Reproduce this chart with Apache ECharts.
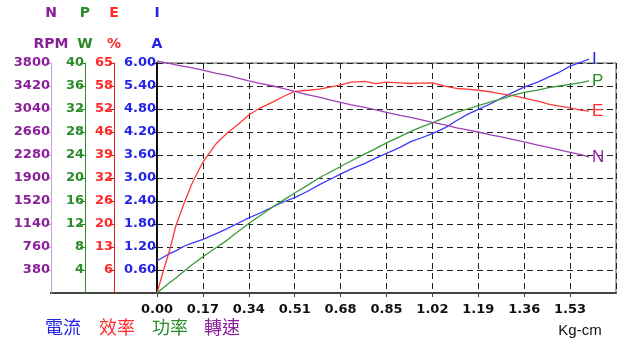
<!DOCTYPE html>
<html><head><meta charset="utf-8">
<script src="https://cdn.jsdelivr.net/npm/echarts@6/dist/echarts.min.js"></script>
<style>html,body{margin:0;padding:0;background:#fff}#c{width:640px;height:350px}</style>
</head><body><div id="c"></div>
<script>
// torque (Kg-cm)
const torque = [0,0.02,0.05,0.07,0.10,0.13,0.17,0.22,0.26,0.30,0.34,0.38,0.43,0.47,0.51,0.56,0.60,0.64,0.68,0.72,0.77,0.81,0.85,0.90,0.94,0.98,1.02,1.07,1.11,1.15,1.19,1.24,1.28,1.32,1.36,1.41,1.45,1.49,1.53,1.57,1.60];
// current I (A)
const currentA = [0.84,0.92,1.04,1.10,1.22,1.30,1.40,1.55,1.68,1.82,1.96,2.08,2.25,2.38,2.49,2.66,2.82,2.96,3.10,3.24,3.38,3.52,3.64,3.80,3.95,4.05,4.16,4.32,4.50,4.66,4.79,4.95,5.10,5.24,5.37,5.50,5.63,5.76,5.92,6.02,6.10];
// efficiency E (%)
const effPct = [0,5.3,13,19,25.3,31,37,42.3,45.2,47.6,50.3,52.2,54,55.6,57,57.3,57.6,58.2,58.8,59.6,59.8,59.2,59.6,59.4,59.2,59.3,59.4,58.4,57.8,57.6,57.3,56.8,56.2,55.8,55.1,54.2,53.4,52.8,52.3,51.7,51.4];
// power P (W)
const powerW = [0,0.8,1.9,2.6,3.8,4.9,6.3,7.9,9.2,10.7,12.1,13.4,15.0,16.2,17.4,18.8,20.0,21.0,22.0,23.0,24.2,25.1,26.1,27.2,28.1,28.9,29.6,30.6,31.4,32.0,32.6,33.3,33.8,34.4,34.9,35.3,35.7,36.0,36.3,36.6,36.9];
// speed N (RPM)
const speedRpm = [3830,3815,3790,3770,3745,3720,3684,3630,3595,3550,3505,3465,3420,3375,3330,3275,3235,3190,3150,3110,3065,3025,2985,2935,2900,2860,2820,2775,2730,2695,2660,2610,2575,2535,2495,2445,2405,2365,2325,2285,2245];
// efficiency tick labels
const effTicks = ['0','6','13','20','26','32','39','46','52','58','65'];
const legendNames = ['電流','效率','功率','轉速'];
const headerLetters = ['N','P','E','I'];
const headerUnits = ['RPM','W','%','A'];

const C = {I:'#2424e6', E:'#ff2a2a', P:'#2a8c2a', N:'#8a1f9a'};
const L = {I:'#3a3aff', E:'#ff3a3a', P:'#3a9a3a', N:'#a040b8'};
const gridL = 157, gridT = 63, gridW = 459, gridH = 230;
const offs = {I:0, E:43, P:72, N:106};
const font = 'DejaVu Sans';
const pair = arr => torque.map((t,i)=>[t, arr[i]]);

function yAx(key, max, interval, fmt, lineColor, lineW){
  return {type:'value', position:'left', offset:offs[key], min:0, max:max, interval:interval,
    axisLine:{show:true, onZero:false, lineStyle:{color:lineColor, width:lineW}},
    axisTick:{show:true, length:5, lineStyle:{color:lineColor}},
    axisLabel:{color:C[key], fontFamily:font, fontWeight:'bold', fontSize:13, margin:1, showMinLabel:false, formatter:fmt},
    splitLine:{show:key==='I', lineStyle:{color:'#222', type:[6,4], width:1}}};
}

const chart = echarts.init(document.getElementById('c'), null, {renderer:'canvas'});
const axisX = [gridL-offs.N, gridL-offs.P, gridL-offs.E, gridL];
const headerColors = [C.N, C.P, C.E, C.I];
const graphics = [];
headerLetters.forEach((t,i)=>graphics.push({type:'text', x:axisX[i], y:13, style:{text:t, fill:headerColors[i], font:'bold 14px '+font, textAlign:'center', textVerticalAlign:'middle'}}));
headerUnits.forEach((t,i)=>graphics.push({type:'text', x:axisX[i], y:44, style:{text:t, fill:headerColors[i], font:'bold 14px '+font, textAlign:'center', textVerticalAlign:'middle'}}));
const legColors = [C.I, C.E, C.P, C.N];
const legX = [45, 99, 152, 204];
legendNames.forEach((t,i)=>graphics.push({type:'text', x:legX[i], y:327, style:{text:t, fill:legColors[i], font:'18px "Noto Sans CJK TC"', textAlign:'left', textVerticalAlign:'middle'}}));
graphics.push({type:'text', x:580, y:331, style:{text:'Kg-cm', fill:'#111', font:'15px "Liberation Sans"', textAlign:'center', textVerticalAlign:'middle'}});
graphics.push({type:'line', shape:{x1:gridL-offs.N-1, y1:gridT+gridH, x2:gridL, y2:gridT+gridH}, style:{stroke:'#444', lineWidth:2}});

function ser(name, key, arr, yIdx, endText){
  return {name:name, type:'line', yAxisIndex:yIdx, data:pair(arr), showSymbol:false, clip:false,
    lineStyle:{color:L[key], width:1.3}, itemStyle:{color:L[key]},
    endLabel:{show:true, formatter:endText, color:C[key], fontFamily:'Liberation Sans', fontSize:17, distance:3},
    animation:false};
}

chart.setOption({
  animation:false,
  grid:{left:gridL, top:gridT, width:gridW, height:gridH, show:true, borderColor:'#555', borderWidth:1, backgroundColor:'transparent'},
  xAxis:{type:'value', min:0, max:1.7, interval:0.17,
    axisLine:{show:true, onZero:false, lineStyle:{color:'#444', width:2}},
    axisTick:{show:true, length:4, lineStyle:{color:'#444'}},
    axisLabel:{color:'#111', fontFamily:font, fontWeight:'bold', fontSize:13, margin:10, showMaxLabel:false, formatter:v=>v.toFixed(2)},
    splitLine:{show:true, lineStyle:{color:'#222', type:[6,4], width:1}}},
  yAxis:[
    yAx('I', 6, 0.6, v=>v.toFixed(2), '#111', 2),
    yAx('E', 65, 6.5, v=>effTicks[Math.round(v/6.5)], '#e02020', 1),
    yAx('P', 40, 4, v=>String(Math.round(v)), '#2a8c2a', 1),
    yAx('N', 3800, 380, v=>String(Math.round(v)), '#c8a0d4', 1)
  ],
  series:[
    ser('電流','I',currentA,0,'I'),
    ser('效率','E',effPct,1,'E'),
    ser('功率','P',powerW,2,'P'),
    ser('轉速','N',speedRpm,3,'N')
  ],
  graphic:graphics
});
</script></body></html>
